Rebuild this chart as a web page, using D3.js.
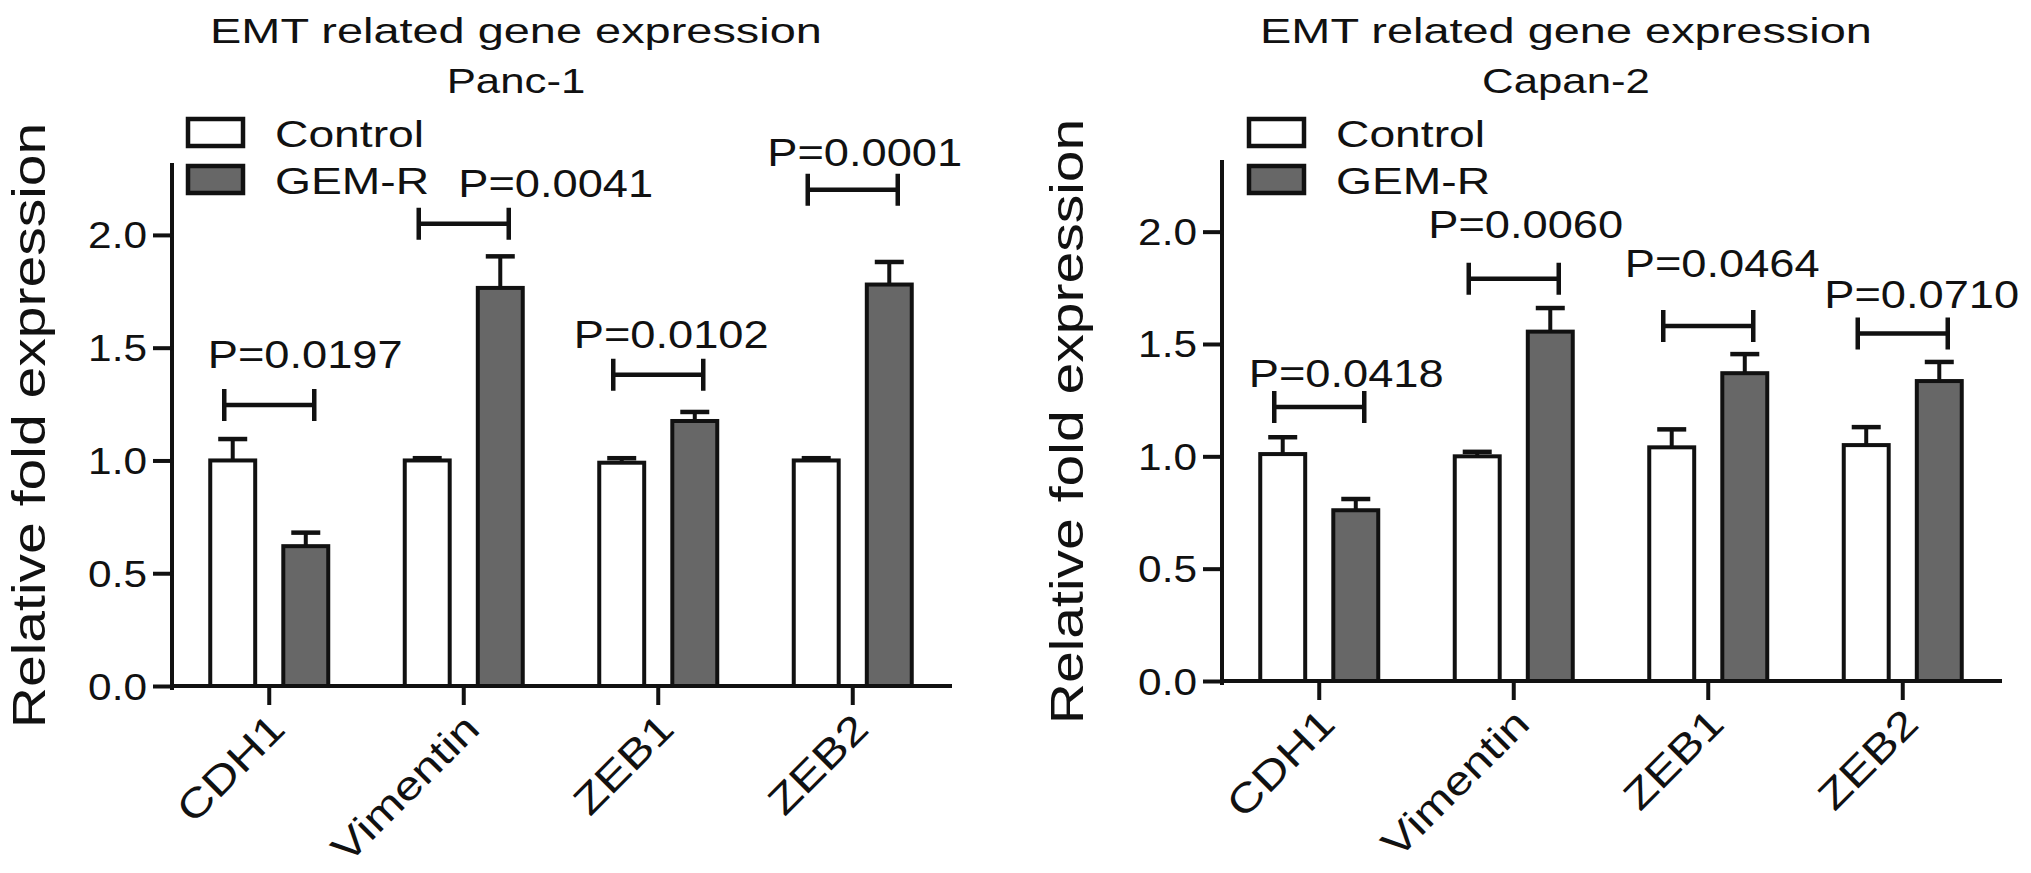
<!DOCTYPE html>
<html>
<head>
<meta charset="utf-8">
<script src="https://cdn.jsdelivr.net/npm/d3@7"></script>
<style>
  body { margin: 0; background: #fff; }
  text { font-family: "Liberation Sans", Arial, sans-serif; fill: #111; }
</style>
</head>
<body>
<div id="chart"></div>
<script>
// categories and ticks
const genes = ["CDH1", "Vimentin", "ZEB1", "ZEB2"];
const groups = ["Control", "GEM-R"];
const yTicks = [0, 0.5, 1.0, 1.5, 2.0];

// Panc-1 values (mean, upper error), brackets and p labels
const panc1Control = [1.00, 1.00, 0.99, 1.00];
const panc1ControlErr = [0.095, 0.01, 0.02, 0.01];
const panc1Gemr = [0.62, 1.765, 1.175, 1.78];
const panc1GemrErr = [0.06, 0.14, 0.04, 0.10];
const panc1P = ["P=0.0197", "P=0.0041", "P=0.0102", "P=0.0001"];
const panc1Bracket = [1.246, 2.05, 1.38, 2.20];
const panc1PLevel = [1.41, 2.17, 1.50, 2.305];

// Capan-2 values
const capan2Control = [1.01, 1.00, 1.04, 1.05];
const capan2ControlErr = [0.075, 0.02, 0.08, 0.08];
const capan2Gemr = [0.76, 1.555, 1.37, 1.335];
const capan2GemrErr = [0.05, 0.105, 0.085, 0.085];
const capan2P = ["P=0.0418", "P=0.0060", "P=0.0464", "P=0.0710"];
const capan2Bracket = [1.22, 1.79, 1.58, 1.547];
const capan2PLevel = [1.307, 1.97, 1.80, 1.66];

const width = 2031;
const height = 873;
const yMax = 2.31;
const stroke = "#111";
const fills = {"Control": "#ffffff", "GEM-R": "#676767"};

const svg = d3.select("#chart")
    .append("svg")
    .attr("width", width)
    .attr("height", height);

svg.append("rect").attr("width", width).attr("height", height).attr("fill", "#fff");

// text in the figure is wider than Liberation Sans, stretch it
function stretch(sel, k) {
    sel.each(function() {
        const w = this.getComputedTextLength();
        d3.select(this).attr("textLength", w * k).attr("lengthAdjust", "spacingAndGlyphs");
    });
}

const panels = [
    {
        cell: "Panc-1", control: panc1Control, controlErr: panc1ControlErr,
        gemr: panc1Gemr, gemrErr: panc1GemrErr, p: panc1P, bracket: panc1Bracket, pLevel: panc1PLevel,
        axisX: 172, baseY: 686, topY: 165, legendX: 188, yLabelX: 45,
        pDx: [36, 92, 13, 12]
    },
    {
        cell: "Capan-2", control: capan2Control, controlErr: capan2ControlErr,
        gemr: capan2Gemr, gemrErr: capan2GemrErr, p: capan2P, bracket: capan2Bracket, pLevel: capan2PLevel,
        axisX: 1222, baseY: 681, topY: 162, legendX: 1249, yLabelX: 1083,
        pDx: [27, 12, 14, 19]
    }
];

panels.forEach(panel => {
    const g = svg.append("g");

    //create Scales
    const xScale = d3.scaleBand()
        .domain(genes)
        .range([panel.axisX, panel.axisX + 778])
        .padding(0);

    const xInner = d3.scaleBand()
        .domain(groups)
        .range([-61, 61])
        .paddingInner(0.33)
        .paddingOuter(0);

    const yScale = d3.scaleLinear()
        .domain([0, yMax])
        .range([panel.baseY, panel.topY]);

    const cx = gene => xScale(gene) + xScale.bandwidth() / 2;

    const rows = [];
    genes.forEach((gene, i) => {
        rows.push({gene: gene, group: "Control", v: panel.control[i], e: panel.controlErr[i]});
        rows.push({gene: gene, group: "GEM-R", v: panel.gemr[i], e: panel.gemrErr[i]});
    });

    // error whiskers (upper only)
    g.selectAll("line.whisker")
        .data(rows)
        .enter().append("line")
        .attr("class", "whisker")
        .attr("x1", d => cx(d.gene) + xInner(d.group) + xInner.bandwidth() / 2)
        .attr("x2", d => cx(d.gene) + xInner(d.group) + xInner.bandwidth() / 2)
        .attr("y1", d => yScale(d.v))
        .attr("y2", d => yScale(d.v + d.e))
        .attr("stroke", stroke)
        .attr("stroke-width", 4);

    g.selectAll("line.cap")
        .data(rows)
        .enter().append("line")
        .attr("class", "cap")
        .attr("x1", d => cx(d.gene) + xInner(d.group) + xInner.bandwidth() / 2 - 14.5)
        .attr("x2", d => cx(d.gene) + xInner(d.group) + xInner.bandwidth() / 2 + 14.5)
        .attr("y1", d => yScale(d.v + d.e))
        .attr("y2", d => yScale(d.v + d.e))
        .attr("stroke", stroke)
        .attr("stroke-width", 4.5);

    // bars
    g.selectAll("rect.bar")
        .data(rows)
        .enter().append("rect")
        .attr("class", "bar")
        .attr("x", d => cx(d.gene) + xInner(d.group) + 2)
        .attr("y", d => yScale(d.v))
        .attr("width", xInner.bandwidth() - 4)
        .attr("height", d => panel.baseY - yScale(d.v))
        .attr("fill", d => fills[d.group])
        .attr("stroke", stroke)
        .attr("stroke-width", 4);

    // Create Axis
    const xAxis = d3.axisBottom(xScale).tickSize(17).tickFormat("");
    const xg = g.append("g")
        .attr("transform", "translate(0," + panel.baseY + ")")
        .call(xAxis);
    xg.select(".domain").attr("d", "M" + panel.axisX + ",0H" + (panel.axisX + 778));

    const yAxis = d3.axisLeft(yScale).tickValues(yTicks).tickSize(17).tickFormat("");
    const yg = g.append("g")
        .attr("transform", "translate(" + panel.axisX + ",0)")
        .call(yAxis);
    yg.select(".domain").attr("d", "M0," + (panel.baseY + 2) + "V" + panel.topY);

    g.selectAll(".domain, .tick line")
        .attr("stroke", stroke)
        .attr("stroke-width", 4)
        .attr("stroke-linecap", "square");

    // y tick labels
    const yLabels = g.selectAll("text.ytick")
        .data(yTicks)
        .enter().append("text")
        .attr("class", "ytick")
        .attr("x", panel.axisX - 25)
        .attr("y", d => yScale(d) + 13.5)
        .attr("text-anchor", "end")
        .style("font-size", "37.5px")
        .text(d => d.toFixed(1));
    stretch(yLabels, 1.13);

    // x tick labels, rotated
    const xLabels = g.selectAll("text.xtick")
        .data(genes)
        .enter().append("text")
        .attr("class", "xtick")
        .attr("text-anchor", "end")
        .attr("transform", d => "translate(" + (cx(d) + 18) + "," + (panel.baseY + 45) + ") rotate(-45)")
        .style("font-size", "40px")
        .text(d => d);
    stretch(xLabels, 1.22);

    // y axis title
    const yTitle = g.append("text")
        .attr("text-anchor", "middle")
        .attr("transform", "translate(" + panel.yLabelX + "," + yScale(yMax / 2) + ") rotate(-90)")
        .style("font-size", "46px")
        .text("Relative fold expression");
    stretch(yTitle, 1.24);

    // significance brackets
    g.selectAll("path.bracket")
        .data(genes)
        .enter().append("path")
        .attr("class", "bracket")
        .attr("d", (d, i) => {
            const y = yScale(panel.bracket[i]);
            const x0 = cx(d) - 45, x1 = cx(d) + 45;
            return "M" + x0 + "," + (y - 16) + "V" + (y + 16) +
                "M" + x0 + "," + y + "H" + x1 +
                "M" + x1 + "," + (y - 16) + "V" + (y + 16);
        })
        .attr("fill", "none")
        .attr("stroke", stroke)
        .attr("stroke-width", 4.5);

    const pText = g.selectAll("text.pval")
        .data(genes)
        .enter().append("text")
        .attr("class", "pval")
        .attr("x", (d, i) => cx(d) + panel.pDx[i])
        .attr("y", (d, i) => yScale(panel.pLevel[i]))
        .attr("text-anchor", "middle")
        .style("font-size", "38px")
        .text((d, i) => panel.p[i]);
    stretch(pText, 1.19);

    // titles
    const midX = panel.axisX + 344;
    const t1 = g.append("text")
        .attr("x", midX).attr("y", 43)
        .attr("text-anchor", "middle")
        .style("font-size", "35px")
        .text("EMT related gene expression");
    stretch(t1, 1.34);
    const t2 = g.append("text")
        .attr("x", midX).attr("y", 93)
        .attr("text-anchor", "middle")
        .style("font-size", "35px")
        .text(panel.cell);
    stretch(t2, 1.25);

    // legend
    const legend = g.selectAll("g.legend")
        .data(groups)
        .enter().append("g")
        .attr("class", "legend")
        .attr("transform", (d, i) => "translate(" + panel.legendX + "," + (119 + i * 47) + ")");

    legend.append("rect")
        .attr("width", 55)
        .attr("height", 27)
        .attr("fill", d => fills[d])
        .attr("stroke", stroke)
        .attr("stroke-width", 4.5);

    const lt = legend.append("text")
        .attr("x", 87)
        .attr("y", 28)
        .style("font-size", "37px")
        .text(d => d);
    stretch(lt, 1.25);
});
</script>
</body>
</html>
